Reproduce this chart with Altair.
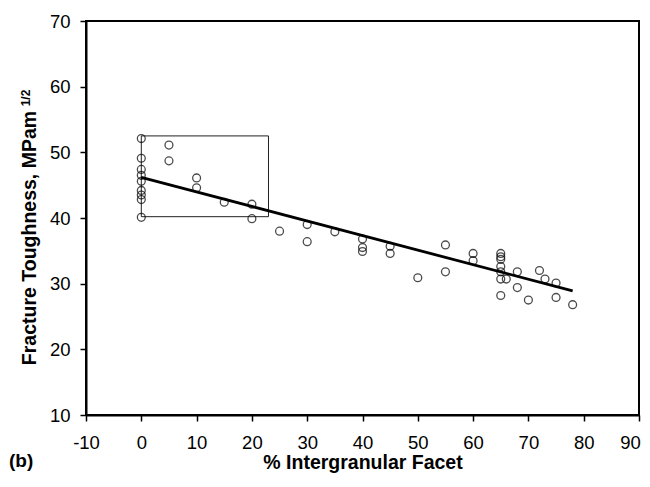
import altair as alt
import pandas as pd

# % intergranular facet (x) and fracture toughness (y)
facet_pct = [0, 0, 0, 0, 0, 0, 0, 0, 0,
             5, 5, 10, 10, 15, 20, 20, 25, 30, 30, 35,
             40, 40, 40, 45, 45, 50, 55, 55, 60, 60,
             65, 65, 65, 65, 65, 65, 65, 66, 68, 68, 70, 72, 73, 75, 75, 78]
toughness = [52.1, 49.1, 47.4, 46.5, 45.6, 44.2, 43.5, 42.8, 40.1,
             51.1, 48.7, 46.1, 44.6, 42.4, 42.1, 39.9, 38.0, 39.0, 36.4, 37.9,
             36.8, 35.5, 34.9, 35.7, 34.6, 30.9, 35.9, 31.8, 34.6, 33.5,
             34.6, 34.1, 33.7, 32.6, 31.8, 30.7, 28.2, 30.7, 31.8, 29.4, 27.5, 32.0, 30.7, 30.1, 27.9, 26.8]

# linear trend line end points
trend_x = [0, 78]
trend_y = [46.2, 28.9]

# highlighted box
box_x = [0, 23]
box_y = [40.2, 52.5]

x_ticks = list(range(-10, 91, 10))
y_ticks = list(range(10, 71, 10))

FONT = "Liberation Sans"

pts = pd.DataFrame({"x": facet_pct, "y": toughness})
trend = pd.DataFrame({"x": trend_x, "y": trend_y})
box = pd.DataFrame({"x": [box_x[0]], "x2": [box_x[1]], "y": [box_y[0]], "y2": [box_y[1]]})

xscale = alt.Scale(domain=[-10, 90], nice=False, zero=False)
yscale = alt.Scale(domain=[10, 70], nice=False, zero=False)

xaxis = alt.Axis(values=x_ticks, title="% Intergranular Facet", grid=False,
                 labelExpr="'' + datum.value",
                 labelOffset={"expr": "datum.value == 90 ? -9 : 0"},
                 labelFont=FONT, labelFontSize=18.5, labelColor="black",
                 titleFont=FONT, titleFontSize=19.5, titleFontWeight="bold", titleColor="black",
                 titleBaseline="alphabetic", titleY=53,
                 tickSize=6, tickColor="black", tickWidth=1.5,
                 domainColor="black", domainWidth=2, labelPadding=12, labelFlush=False)
yaxis = alt.Axis(values=y_ticks, title="Fracture Toughness, MPam", grid=False,
                 labelExpr="'' + datum.value",
                 labelFont=FONT, labelFontSize=18.5, labelColor="black",
                 titleFont=FONT, titleFontSize=19.5, titleFontWeight="bold", titleColor="black",
                 titleBaseline="alphabetic", titleX=-51, titleY=216.5, titleAngle=270,
                 tickSize=6, tickColor="black", tickWidth=1.5,
                 domainColor="black", domainWidth=2, labelPadding=10)

points = alt.Chart(pts).mark_point(shape="circle", filled=False, color="black",
                                   size=62, strokeWidth=1.3).encode(
    x=alt.X("x:Q", scale=xscale, axis=xaxis),
    y=alt.Y("y:Q", scale=yscale, axis=yaxis),
)

line = alt.Chart(trend).mark_line(color="black", strokeWidth=2.8).encode(
    x=alt.X("x:Q", scale=xscale),
    y=alt.Y("y:Q", scale=yscale),
)

rect = alt.Chart(box).mark_rect(fill=None, stroke="#222222", strokeWidth=1).encode(
    x=alt.X("x:Q", scale=xscale), x2="x2:Q",
    y=alt.Y("y:Q", scale=yscale), y2="y2:Q",
)

sup = alt.Chart(pd.DataFrame({"t": ["1/2"]})).mark_text(
    font=FONT, fontSize=12, fontWeight="bold", angle=270, align="center",
    baseline="alphabetic", color="black").encode(
    text="t:N", x=alt.value(-56), y=alt.value(77))

label_b = alt.Chart(pd.DataFrame({"t": ["(b)"]})).mark_text(
    font=FONT, fontSize=19, fontWeight="bold", align="left",
    baseline="alphabetic", color="black").encode(
    text="t:N", x=alt.value(-77), y=alt.value(446))

chart = alt.layer(rect, points, line, sup, label_b).properties(
    width=553, height=394,
    autosize=alt.AutoSizeParams(type="none"),
    padding={"left": 78, "top": 13, "right": 3, "bottom": 58},
    background="white",
).configure_view(stroke="black", strokeWidth=2)

chart.save("out.html", embed_options={"renderer": "svg", "actions": False})
